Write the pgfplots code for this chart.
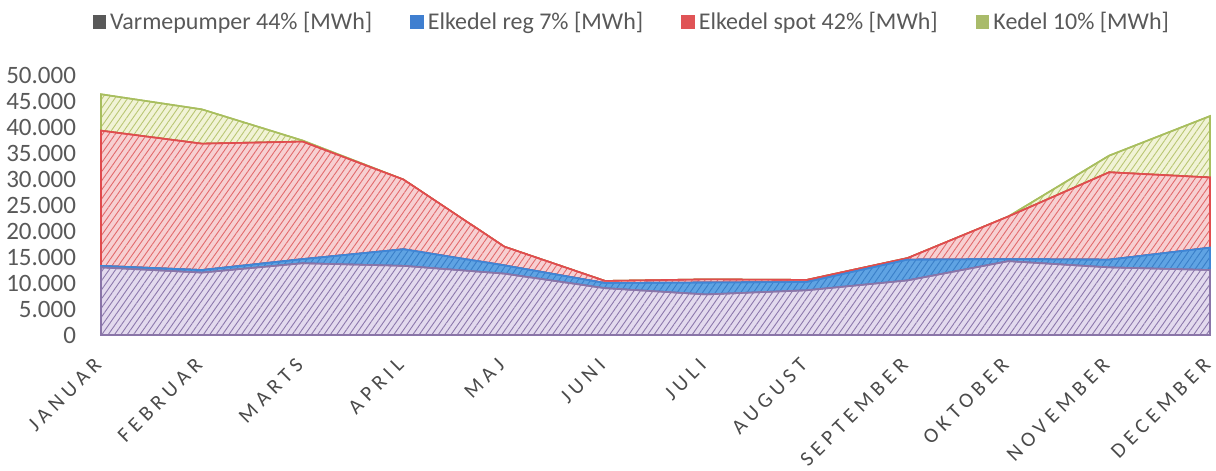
\documentclass[border=0pt]{standalone}
\usepackage{fontspec}
\setmainfont{Carlito}
\newfontfamily\spaced[LetterSpace=24]{Carlito}
\usepackage{pgfplots}
\pgfplotsset{compat=1.18}
\usetikzlibrary{patterns.meta}
\makeatletter
\tikzset{nopost/.code={\let\tikz@postactions\pgfutil@empty}}
\makeatother
\definecolor{tickgray}{HTML}{595959}
\definecolor{xgray}{HTML}{4A4A4A}
\definecolor{vpfill}{HTML}{E3DAEE}
\definecolor{vphatch}{HTML}{8C78AC}
\definecolor{vpline}{HTML}{8A75A8}
\definecolor{regfill}{HTML}{5FA3E3}
\definecolor{reghatch}{HTML}{3A7FC8}
\definecolor{regline}{HTML}{3F86D6}
\definecolor{spotfill}{HTML}{F7D0D2}
\definecolor{spothatch}{HTML}{E26A6C}
\definecolor{spotline}{HTML}{E04C4E}
\definecolor{kedfill}{HTML}{F1F3D6}
\definecolor{kedhatch}{HTML}{B9C673}
\definecolor{kedline}{HTML}{A8BE5E}
\definecolor{legvp}{HTML}{595959}
\definecolor{legreg}{HTML}{3F7FD0}
\definecolor{legspot}{HTML}{E05456}
\definecolor{legked}{HTML}{A9BB6A}
\begin{document}
\begin{tikzpicture}
\useasboundingbox (-50.5pt,-68pt) rectangle (557.5pt,167.5pt);
\begin{axis}[
  scale only axis, width=554.5pt, height=130pt,
  xmin=0, xmax=11, ymin=0, ymax=50000,
  axis line style={draw=none},
  major tick length=0pt,
  xtick={0,...,11},
  xticklabels={JANUAR,FEBRUAR,MARTS,APRIL,MAJ,JUNI,JULI,AUGUST,SEPTEMBER,OKTOBER,NOVEMBER,DECEMBER},
  ytick={0,5000,...,50000},
  scaled y ticks=false,
  /pgf/number format/1000 sep={.},
  /pgf/number format/assume math mode=true,
  tick label style={text=tickgray},
  yticklabel style={font=\fontsize{12.5}{15}\selectfont, xshift=-9pt},
  xticklabel style={xshift=-4pt, yshift=-6pt, rotate=45, anchor=north east, text=xgray, font=\spaced\fontsize{10.5}{12}\selectfont},
  stack plots=y,
  clip=false,
  legend style={at={(0.4795,1.204)}, anchor=center, draw=none, fill=none,
    legend columns=-1, font=\fontsize{12}{14}\selectfont, text=tickgray,
    /tikz/every even column/.append style={column sep=17pt}},
  legend cell align=left,
]
\addplot[draw=vpline, line width=0.8pt, fill=vpfill,
  postaction={pattern={Lines[angle=55,distance=2.6pt,line width=0.45pt]}, pattern color=vphatch},
  legend image code/.code={\fill[nopost, legvp] (0pt,-3pt) rectangle (6pt,3pt);}]
  coordinates {(0,13000) (1,12000) (2,13800) (3,13300) (4,11800) (5,9000) (6,7800) (7,8600) (8,10500) (9,14200) (10,13000) (11,12500)} \closedcycle;
\addlegendentry{Varmepumper 44\% [MWh]}
\addplot[draw=regline, line width=0.8pt, fill=regfill,
  postaction={pattern={Lines[angle=55,distance=2.6pt,line width=0.45pt]}, pattern color=reghatch},
  legend image code/.code={\fill[nopost, legreg] (0pt,-3pt) rectangle (6pt,3pt);}]
  coordinates {(0,300) (1,500) (2,800) (3,3200) (4,1600) (5,1000) (6,2300) (7,1600) (8,4000) (9,400) (10,1500) (11,4300)} \closedcycle;
\addlegendentry{Elkedel reg 7\% [MWh]}
\addplot[draw=spotline, line width=0.8pt, fill=spotfill,
  postaction={pattern={Lines[angle=55,distance=2.6pt,line width=0.45pt]}, pattern color=spothatch},
  legend image code/.code={\fill[nopost, legspot] (0pt,-3pt) rectangle (6pt,3pt);}]
  coordinates {(0,26000) (1,24300) (2,22600) (3,13400) (4,3600) (5,400) (6,600) (7,400) (8,300) (9,8200) (10,16800) (11,13500)} \closedcycle;
\addlegendentry{Elkedel spot 42\% [MWh]}
\addplot[draw=kedline, line width=0.8pt, fill=kedfill,
  postaction={pattern={Lines[angle=55,distance=2.6pt,line width=0.45pt]}, pattern color=kedhatch},
  legend image code/.code={\fill[nopost, legked] (0pt,-3pt) rectangle (6pt,3pt);}]
  coordinates {(0,7000) (1,6600) (2,200) (3,0) (4,0) (5,0) (6,0) (7,0) (8,0) (9,0) (10,3200) (11,11800)} \closedcycle;
\addlegendentry{Kedel 10\% [MWh]}
\end{axis}
\end{tikzpicture}
\end{document}
